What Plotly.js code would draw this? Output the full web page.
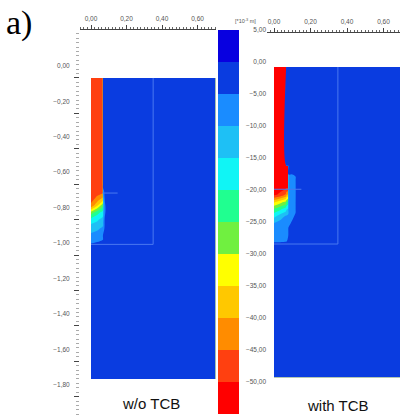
<!DOCTYPE html>
<html>
<head>
<meta charset="utf-8">
<script src="https://cdn.plot.ly/plotly-3.0.1.min.js"></script>
<style>html,body{margin:0;padding:0;background:#fff}#chart{width:400px;height:417px}</style>
</head>
<body>
<div id="chart"></div>
<script>
// ---- legend levels (x10^-3 m), top to bottom, and band colours (band i lies between levels[i] and levels[i+1])
const levels = [5, 0, -5, -10, -15, -20, -25, -30, -35, -40, -45, -50, -55];
const bandColors = ["#0800e0", "#0a3ce0", "#1a8cff", "#1ec0f5", "#10f5f5", "#20ff90",
                    "#70f040", "#ffff00", "#ffc800", "#ff8c00", "#ff4010", "#ff0000"];

// ---- axis tick values
const xTicks = [0, 0.2, 0.4, 0.6];
const yTicks = [0, -0.2, -0.4, -0.6, -0.8, -1.0, -1.2, -1.4, -1.6, -1.8];

// ---- panel a-left: w/o TCB  (displacement field, x10^-3 m)
const xL = [0, 0.034, 0.067, 0.0675, 0.078, 0.09, 0.7];
const yL = [0, -0.60, -0.64, -0.68, -0.72, -0.76, -0.80, -0.85, -0.90, -0.94, -0.98, -1.7];
const zL = [
  [-47, -47, -47, -2, -2, -2, -2],
  [-47, -47, -47, -2, -2, -2, -2],
  [-47, -47, -47, -8, -3, -2, -2],
  [-47, -44, -39, -12, -4, -2, -2],
  [-44, -36, -26, -13, -6, -2, -2],
  [-28, -22, -18, -12, -6, -2, -2],
  [-18, -16, -13, -11, -4, -2, -2],
  [-12, -11, -9, -8, -4, -2, -2],
  [-8, -7, -6, -4, -3, -2, -2],
  [-4.5, -4, -3, -3, -2, -2, -2],
  [-2, -2, -2, -2, -2, -2, -2],
  [-2, -2, -2, -2, -2, -2, -2]
];

// ---- panel a-right: with TCB
const xR = [0, 0.033, 0.066, 0.0665, 0.078, 0.079, 0.10, 0.118, 0.12, 0.7];
const yR = [0, -0.54, -0.541, -0.62, -0.66, -0.70, -0.74, -0.78, -0.82, -0.86, -0.90, -0.95, -0.98, -1.05, -1.7];
const zR = [
  [-52, -52, -52, -2, -2, -2, -2, -2, -2, -2],
  [-52, -52, -52, -2, -2, -2, -2, -2, -2, -2],
  [-52, -52, -52, -52, -51, -2, -2, -2, -2, -2],
  [-52, -52, -52, -52, -51, -7, -7, -6, -2, -2],
  [-52, -52, -51, -51, -51, -8, -8, -7, -2, -2],
  [-51, -49, -44, -42, -38, -8, -8, -7, -2, -2],
  [-36, -32, -28, -26, -22, -8, -8, -6, -2, -2],
  [-24, -21, -17, -16, -14, -7, -7, -6, -2, -2],
  [-16, -12, -9, -9, -8, -6, -6, -4, -2, -2],
  [-9, -8, -8, -8, -7, -6, -4, -3, -2, -2],
  [-7, -7, -7, -6, -6, -4, -3, -2, -2, -2],
  [-6, -6, -6, -6, -4, -2, -2, -2, -2, -2],
  [-3, -3, -2, -2, -2, -2, -2, -2, -2, -2],
  [-2, -2, -2, -2, -2, -2, -2, -2, -2, -2],
  [-2, -2, -2, -2, -2, -2, -2, -2, -2, -2]
];

// ---- model geometry lines (inner boundaries)
const geoLx = [0.35, 0.35, 0, null, 0.065, 0.15];
const geoLy = [0, -0.94, -0.94, null, -0.65, -0.65];
const geoRx = [0.35, 0.35, 0, null, 0, 0.15];
const geoRy = [0, -0.97, -0.97, null, -0.67, -0.67];

// ---- colour scales built from the legend
const nb = bandColors.length;               // 12 bands
const bandAsc = bandColors.slice().reverse(); // bottom (-55..-50) first
const levelsAsc = levels.slice().reverse();
// contour fill: band k (1..nb) sampled at k/(nb+1)
const contourScale = [[0, bandAsc[0]]];
for (let k = 1; k <= nb; k++) contourScale.push([k / (nb + 1), bandAsc[k - 1]]);
contourScale.push([1, bandAsc[nb - 1]]);
// legend bar: hard steps
const barScale = [];
for (let j = 0; j < nb; j++) { barScale.push([j / nb, bandAsc[j]]); barScale.push([(j + 1) / nb, bandAsc[j]]); }
const zBar = [];
for (let i = 0; i < nb; i++) zBar.push([(levelsAsc[i] + levelsAsc[i + 1]) / 2]);

const contourCommon = {
  type: 'contour', autocontour: false,
  contours: {start: -55, end: 5, size: 5, coloring: 'fill', showlines: false},
  line: {width: 0}, colorscale: contourScale, showscale: false, hoverinfo: 'skip'
};

const traces = [
  Object.assign({x: xL, y: yL, z: zL, xaxis: 'x', yaxis: 'y'}, contourCommon),
  Object.assign({x: xR, y: yR, z: zR, xaxis: 'x2', yaxis: 'y2'}, contourCommon),
  {type: 'scatter', mode: 'lines', x: geoLx, y: geoLy, xaxis: 'x', yaxis: 'y',
   line: {color: '#4a78f0', width: 1}, hoverinfo: 'skip', connectgaps: false},
  {type: 'scatter', mode: 'lines', x: geoRx, y: geoRy, xaxis: 'x2', yaxis: 'y2',
   line: {color: '#4a78f0', width: 1}, hoverinfo: 'skip', connectgaps: false},
  {type: 'heatmap', x: [0, 1], y: levelsAsc, z: zBar, xaxis: 'x3', yaxis: 'y3',
   colorscale: barScale, zmin: levelsAsc[0], zmax: levelsAsc[nb], showscale: false, hoverinfo: 'skip'}
];

const H = 417, W = 400;
const topAxis = {
  side: 'top', tickvals: xTicks, tickformat: '.2f', ticks: 'outside', ticklen: 4,
  tickcolor: '#444', tickwidth: 1, showline: true, linecolor: '#444', linewidth: 1,
  showgrid: false, zeroline: false, ticklabelstandoff: 1,
  minor: {dtick: 0.02, tick0: 0, ticks: 'outside', ticklen: 2, tickcolor: '#666', showgrid: false}
};

const layout = {
  width: W, height: H, margin: {l: 0, r: 0, t: 0, b: 0},
  paper_bgcolor: '#ffffff', plot_bgcolor: 'rgba(0,0,0,0)',
  separators: ', ', showlegend: false,
  font: {family: 'Liberation Sans, Arial, sans-serif', size: 6.5, color: '#555'},
  xaxis: Object.assign({domain: [80 / W, 216 / W], range: [-0.062, 0.704], anchor: 'y'}, topAxis),
  yaxis: {domain: [0, 1 - 30 / H], range: [-1.915, 0.271], anchor: 'x',
          tickvals: yTicks, tickformat: '.2f', ticks: 'outside', ticklen: 5, tickcolor: '#444',
          showline: false, showgrid: false, zeroline: false, ticklabelshift: -12, ticklabelstandoff: 3,
          minor: {dtick: 0.025, tick0: 0, ticks: 'outside', ticklen: 3, tickcolor: '#aaa', showgrid: false}},
  xaxis2: Object.assign({domain: [267 / W, 1], range: [-0.0384, 0.6904], anchor: 'y2'}, topAxis),
  yaxis2: {domain: [0, 1 - 33 / H], range: [-1.9178, 0.1863], anchor: 'x2', visible: false},
  xaxis3: {domain: [218 / W, 239 / W], range: [0, 1], anchor: 'y3', visible: false},
  yaxis3: {domain: [1 - 414 / H, 1 - 30 / H], range: [levelsAsc[0], levelsAsc[nb]], anchor: 'free',
           position: 266 / W, side: 'left', tickvals: levels, tickformat: '.2f', ticks: '',
           showline: false, showgrid: false, zeroline: false},
  annotations: [
    {text: 'a)', x: 19 / W, y: 1 - 23 / H, xref: 'paper', yref: 'paper', xanchor: 'center', yanchor: 'middle',
     showarrow: false, font: {family: 'Liberation Serif, Times New Roman, serif', size: 34, color: '#000'}},
    {text: 'w/o TCB', x: 151 / W, y: 1 - 403 / H, xref: 'paper', yref: 'paper', xanchor: 'center', yanchor: 'middle',
     showarrow: false, font: {family: 'Liberation Sans, Arial, sans-serif', size: 15, color: '#111'}},
    {text: 'with TCB', x: 337.5 / W, y: 1 - 405 / H, xref: 'paper', yref: 'paper', xanchor: 'center', yanchor: 'middle',
     showarrow: false, font: {family: 'Liberation Sans, Arial, sans-serif', size: 15, color: '#111'}},
    {text: '[*10<sup>-3</sup> m]', x: 245 / W, y: 1 - 21 / H, xref: 'paper', yref: 'paper', xanchor: 'center', yanchor: 'middle',
     showarrow: false, font: {family: 'Liberation Sans, Arial, sans-serif', size: 5.5, color: '#555'}}
  ]
};

Plotly.newPlot('chart', traces, layout, {staticPlot: true, displayModeBar: false});
</script>
</body>
</html>
